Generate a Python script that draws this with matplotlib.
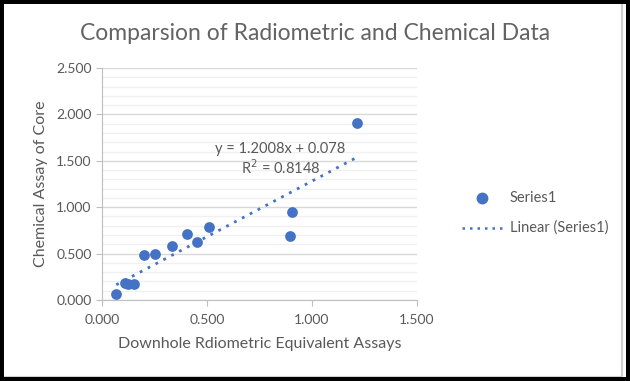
import numpy as np
import matplotlib
matplotlib.use("Agg")
import matplotlib.pyplot as plt
from matplotlib.patches import Rectangle
from matplotlib.ticker import MultipleLocator, FormatStrFormatter

x_vals = [0.068, 0.111, 0.124, 0.154, 0.200, 0.250, 0.333, 0.404, 0.454, 0.511, 0.893, 0.903, 1.216]
y_vals = [0.064, 0.182, 0.168, 0.175, 0.482, 0.493, 0.579, 0.715, 0.625, 0.789, 0.686, 0.943, 1.911]
eq_text = "y = 1.2008x + 0.078"
r2_text = "R$^2$ = 0.8148"
title = "Comparsion of Radiometric and Chemical Data"
xlabel = "Downhole Rdiometric Equivalent Assays"
ylabel = "Chemical Assay of Core"

plt.rcParams['font.family'] = ['Lato', 'DejaVu Sans']
W, H = 630, 381
fig = plt.figure(figsize=(W/100, H/100), dpi=100)
ax = fig.add_axes([102/W, 1-300/H, (417-102)/W, (300-68)/H])

blue = '#4472c4'
txt = '#595959'
ax.scatter(x_vals, y_vals, s=60, color=blue, zorder=3, label='Series1', linewidths=0)
m, b = np.polyfit(x_vals, y_vals, 1)
xs = np.array([min(x_vals), max(x_vals)])
ax.plot(xs, m*xs + b, linestyle=(0, (1, 2.2)), color=blue, lw=2, zorder=2, label='Linear (Series1)')

ax.set_xlim(0, 1.5)
ax.set_ylim(0, 2.5)
ax.xaxis.set_major_locator(MultipleLocator(0.5))
ax.yaxis.set_major_locator(MultipleLocator(0.5))
ax.yaxis.set_minor_locator(MultipleLocator(0.1))
ax.xaxis.set_major_formatter(FormatStrFormatter('%.3f'))
ax.yaxis.set_major_formatter(FormatStrFormatter('%.3f'))
ax.grid(axis='y', which='major', color='#d9d9d9', lw=1)
ax.grid(axis='y', which='minor', color='#f0f0f0', lw=1)
ax.set_axisbelow(True)
for s in ['top', 'right']:
    ax.spines[s].set_visible(False)
ax.spines['left'].set_color('#bfbfbf')
ax.spines['bottom'].set_color('#bfbfbf')
ax.tick_params(axis='both', which='major', colors='#bfbfbf', labelcolor=txt, labelsize=10, length=4)
ax.tick_params(axis='y', which='minor', length=0)
ax.tick_params(axis='x', pad=6)
ax.set_xlabel(xlabel, color=txt, fontsize=11.5, labelpad=8)
ax.set_ylabel(ylabel, color=txt, fontsize=11.5, labelpad=6)

ax.text(0.85, 1.63, eq_text, color=txt, fontsize=10.5, ha='center', va='center')
ax.text(0.85, 1.425, r2_text, color=txt, fontsize=10.5, ha='center', va='center')

fig.text(315/W, 1-33/H, title, color='#636363', fontsize=16.5, ha='center', va='center')

# legend
fig.lines.append(plt.Line2D([482/W], [1-198/H], marker='o', markersize=7.5, color=blue, lw=0, transform=fig.transFigure))
fig.text(510/W, 1-198/H, 'Series1', color=txt, fontsize=10.5, va='center')
fig.lines.append(plt.Line2D([462/W, 502/W], [1-228/H, 1-228/H], linestyle=(0, (1, 2)), color=blue, lw=1.8, transform=fig.transFigure))
fig.text(510/W, 1-228/H, 'Linear (Series1)', color=txt, fontsize=10.5, va='center')

# border
fig.patches.append(Rectangle((2/W, 4/H), (622-2)/W, (378-4)/H, fill=False, ec='#d0d0d0', lw=1.5, transform=fig.transFigure))
fig.patches.append(Rectangle((0, 0), 1, 1, fill=False, ec='black', lw=5, transform=fig.transFigure))
fig.patches.append(Rectangle((626/W, 0), 4/W, 1, fc='black', ec='none', transform=fig.transFigure))
fig.patches.append(Rectangle((0, 0), 1, 4/H, fc='black', ec='none', transform=fig.transFigure))

fig.savefig('out.png', dpi=100)
